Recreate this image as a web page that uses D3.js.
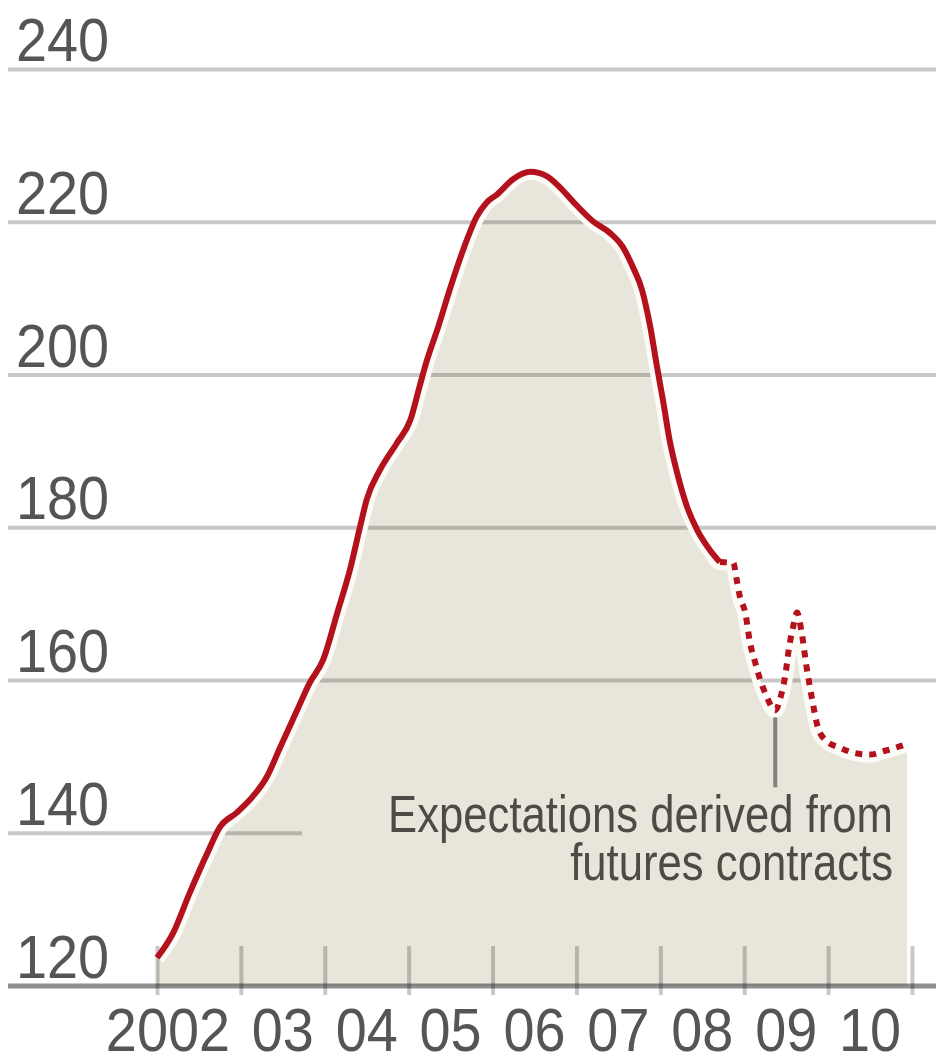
<!DOCTYPE html>
<html>
<head>
<meta charset="utf-8">
<script src="https://cdnjs.cloudflare.com/ajax/libs/d3/7.8.5/d3.min.js"></script>
<style>
  html, body { margin: 0; padding: 0; background: #fff; }
  svg { display: block; }
  text { font-family: "Liberation Sans", Arial, sans-serif; }
  .num { font-size: 62px; fill: #555; }
  .note { font-size: 52px; fill: #4e4a45; }
  .grid { stroke: #c8c8c8; stroke-width: 4; mix-blend-mode: multiply; }
  .axis-line { stroke: #8f8f8f; stroke-width: 5; mix-blend-mode: multiply; }
</style>
</head>
<body>
<div id="chart"></div>
<script>

// x axis: year boundaries and labelled years
var tickYears = [2002, 2003, 2004, 2005, 2006, 2007, 2008, 2009, 2010, 2011];
var labelYears = [2002, 2003, 2004, 2005, 2006, 2007, 2008, 2009, 2010];

// y axis
var yTicks = [120, 140, 160, 180, 200, 220, 240];

// index, actual (solid line)
var actualYears = [2002.00, 2002.19, 2002.39, 2002.60, 2002.75, 2002.95, 2003.14, 2003.31, 2003.47, 2003.67,
    2003.82, 2003.98, 2004.15, 2004.30, 2004.42, 2004.50, 2004.66, 2004.86, 2005.02, 2005.13,
    2005.22, 2005.34, 2005.49, 2005.65, 2005.81, 2005.93, 2006.05, 2006.24, 2006.45, 2006.65,
    2006.80, 2006.96, 2007.20, 2007.40, 2007.55, 2007.67, 2007.78, 2007.88, 2007.96, 2008.03,
    2008.11, 2008.20, 2008.32, 2008.44, 2008.59, 2008.71];
var actualValues = [123.7, 126.9, 132.2, 137.4, 140.8, 142.7, 144.8, 147.4, 151.3, 156.1,
    159.7, 162.7, 168.9, 174.5, 180.1, 183.7, 187.6, 191.1, 194.1, 198.5,
    202.0, 205.9, 211.2, 216.4, 220.7, 222.6, 223.6, 225.6, 226.6, 226.0,
    224.6, 222.7, 220.1, 218.6, 216.8, 214.2, 211.2, 206.3, 201.1, 196.8,
    191.5, 187.2, 182.7, 179.7, 177.1, 175.5];

// expectations from futures contracts (dotted line)
var futureYears = [2008.87, 2008.91, 2008.95, 2009.01, 2009.07, 2009.13, 2009.19, 2009.26, 2009.37, 2009.44,
    2009.49, 2009.53, 2009.58, 2009.63, 2009.68, 2009.74, 2009.81, 2009.88, 2009.97, 2010.14,
    2010.32, 2010.50, 2010.68, 2010.86, 2010.94];
var futureValues = [175.4, 173.2, 170.9, 169.0, 164.9, 162.4, 160.1, 158.1, 156.1, 158.1,
    160.7, 164.0, 166.9, 168.9, 166.6, 162.0, 157.5, 153.8, 152.2, 151.2,
    150.5, 150.3, 150.8, 151.4, 151.7];

var noteLines = ["Expectations derived from", "futures contracts"];


var width = 936;
var height = 1056;
var squeeze = 0.9;      // the chart's type is condensed
var noteSqueeze = 0.84;

var svg = d3.select("#chart")
    .append("svg")
    .attr("width", width)
    .attr("height", height);

var x = d3.scaleLinear()
    .domain([2002, 2011])
    .range([157, 912]);

var y = d3.scaleLinear()
    .domain([120, 240])
    .range([986, 69.5]);

var actual = actualYears.map(function(t, i){ return { t: t, v: actualValues[i] } });
var future = [actual[actual.length - 1]].concat(
    futureYears.map(function(t, i){ return { t: t, v: futureValues[i] } }));
var all = actual.concat(future.slice(1));

var area = d3.area()
    .x(function(d){ return x(d.t) })
    .y0(y(120))
    .y1(function(d){ return y(d.v) })
    .curve(d3.curveMonotoneX);

var line = d3.line()
    .x(function(d){ return x(d.t) })
    .y(function(d){ return y(d.v) })
    .curve(d3.curveMonotoneX);

function place(px, py, sx) {
    return "translate(" + px + "," + py + ") scale(" + sx + ",1)";
}

svg.append("clipPath")
    .attr("id", "areaClip")
    .append("path")
    .attr("d", area(all));

// shaded area under the curve
svg.append("path")
    .attr("d", area(all))
    .attr("fill", "#e8e6da");

// horizontal gridlines (140 stops short of the note)
svg.selectAll(".grid")
    .data(yTicks.filter(function(d){ return d > 120 }))
    .enter()
    .append("line")
    .attr("class", "grid")
    .attr("x1", 8)
    .attr("x2", function(d){ return d == 140 ? 302 : width })
    .attr("y1", function(d){ return y(d) })
    .attr("y2", function(d){ return y(d) });

// year ticks
var xAxis = d3.axisBottom(x)
    .tickValues(tickYears)
    .tickSize(0)
    .tickFormat("");

var gx = svg.append("g")
    .attr("transform", "translate(0," + y(120) + ")")
    .call(xAxis);
gx.select(".domain").remove();
gx.selectAll(".tick line")
    .attr("class", "grid")
    .attr("y1", -40)
    .attr("y2", 9)
    .attr("stroke", null);

// pale gap between the line and the shading
svg.append("path")
    .attr("d", line(all))
    .attr("fill", "none")
    .attr("stroke", "#fbfbf7")
    .attr("stroke-width", 16)
    .attr("clip-path", "url(#areaClip)");

// baseline
svg.append("line")
    .attr("class", "axis-line")
    .attr("x1", 8)
    .attr("x2", width)
    .attr("y1", y(120))
    .attr("y2", y(120));

svg.append("path")
    .datum(actual)
    .attr("d", line)
    .attr("fill", "none")
    .attr("stroke", "#b3111b")
    .attr("stroke-width", 6)
    .attr("stroke-linejoin", "round");

svg.append("path")
    .datum(future)
    .attr("d", line)
    .attr("fill", "none")
    .attr("stroke", "#b3111b")
    .attr("stroke-width", 6)
    .attr("stroke-dasharray", "7,7");

// pointer from the trough of the expectations down to the note
var low = d3.least(future.filter(function(d){ return d.t < 2009.6 }), function(d){ return d.v });
svg.append("line")
    .attr("class", "axis-line")
    .style("stroke-width", 4)
    .attr("x1", x(low.t))
    .attr("x2", x(low.t))
    .attr("y1", y(low.v) + 7)
    .attr("y2", y(low.v) + 77);

svg.selectAll(".note")
    .data(noteLines)
    .enter()
    .append("text")
    .attr("class", "note")
    .attr("transform", function(d, i){ return place(893, 832 + i * 48, noteSqueeze) })
    .attr("text-anchor", "end")
    .text(function(d){ return d });

// y labels sit above their gridlines
svg.selectAll(".ylab")
    .data(yTicks)
    .enter()
    .append("text")
    .attr("class", "num ylab")
    .attr("transform", function(d){ return place(16, y(d) - 8.5, squeeze) })
    .text(function(d){ return d });

// x labels centred in each year
var xl = svg.selectAll(".xlab")
    .data(labelYears)
    .enter()
    .append("text")
    .attr("class", "num xlab")
    .attr("transform", function(d){ return place(x(d + 0.5), 1051, squeeze) })
    .attr("text-anchor", "middle")
    .text(function(d){ return String(d).slice(2) });

// "20" of 2002 hangs to the left of its "02"
var w = xl.filter(function(d, i){ return i == 0 }).node().getComputedTextLength() * squeeze;
svg.append("text")
    .attr("class", "num")
    .attr("transform", place(x(labelYears[0] + 0.5) - w / 2, 1051, squeeze))
    .attr("text-anchor", "end")
    .text(String(labelYears[0]).slice(0, 2));

</script>
</body>
</html>
